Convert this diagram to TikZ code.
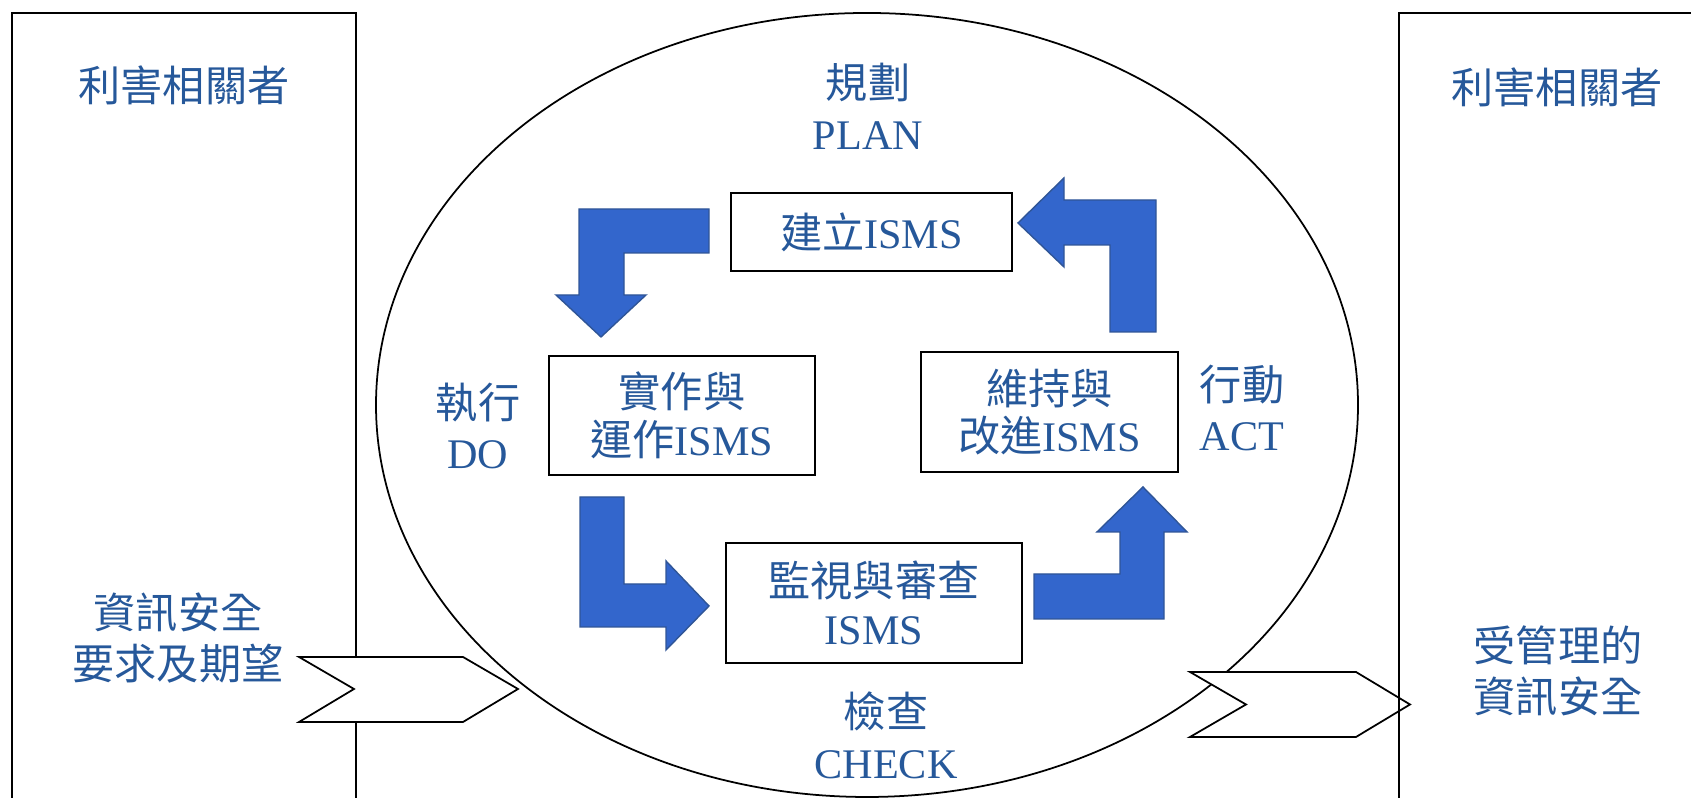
\documentclass[tikz,border=0pt]{standalone}
\usepackage{fontspec}
\setmainfont{Liberation Serif}
\newfontfamily\cjk{Noto Sans CJK TC}
\definecolor{chuxanh}{RGB}{38,88,154}
\definecolor{xanh}{RGB}{51,102,204}
\definecolor{vienxanh}{RGB}{47,85,151}
\begin{document}
\begin{tikzpicture}[
	nhan/.style={text=chuxanh, align=center, inner sep=0pt, font=\fontsize{12}{14.5}\selectfont},
	khung/.style={draw, line width=0.5pt, fill=white, nhan, font=\fontsize{12}{13.5}\selectfont},
	muiten/.style={fill=xanh, draw=vienxanh, line width=0.4pt},
	vien/.style={line width=0.5pt}]
	\useasboundingbox (0,0) rectangle (16.91,7.98);
	\clip (0,0) rectangle (16.91,7.98);
	%ben trai
	\draw[vien] (0.12,-0.2) -- (0.12,7.85) -- (3.56,7.85) -- (3.56,-0.2);
	\node[nhan] (bentrai) at (1.84,7.13) {\cjk 利害相關者};
	\node[nhan] (yeucau) at (1.78,1.60) {\cjk 資訊安全\\\cjk 要求及期望};
	%vong
	\draw[vien] (8.67,3.93) ellipse (4.91 and 3.92);
	%hai mui vao ra
	\draw[vien, fill=white] (2.99,1.41) -- (4.63,1.41) -- (5.18,1.09) -- (4.63,0.76) -- (2.99,0.76) -- (3.54,1.09) -- cycle;
	\draw[vien, fill=white] (11.90,1.26) -- (13.56,1.26) -- (14.10,0.935) -- (13.56,0.61) -- (11.90,0.61) -- (12.46,0.935) -- cycle;
	%ben phai
	\draw[vien] (17.2,7.85) -- (13.99,7.85) -- (13.99,-0.2);
	\node[nhan] (benphai) at (15.57,7.11) {\cjk 利害相關者};
	\node[nhan] (ketqua) at (15.58,1.27) {\cjk 受管理的\\\cjk 資訊安全};
	%bon chu
	\node[nhan] (plan) at (8.68,6.92) {{\cjk 規劃}\\PLAN};
	\node[nhan] (do) at (4.78,3.72) {{\cjk 執行}\\DO};
	\node[nhan] (act) at (12.42,3.90) {{\cjk 行動}\\ACT};
	\node[nhan] (check) at (8.86,0.63) {{\cjk 檢查}\\CHECK};
	%cac o
	\node[khung, minimum width=2.81cm, minimum height=0.78cm] (lap) at (8.715,5.66) {{\cjk 建立}ISMS};
	\node[khung, minimum width=2.66cm, minimum height=1.19cm] (thuchien) at (6.82,3.825) {{\cjk 實作與}\\{\cjk 運作}ISMS};
	\node[khung, minimum width=2.57cm, minimum height=1.20cm] (duytri) at (10.495,3.86) {{\cjk 維持與}\\{\cjk 改進}ISMS};
	\node[khung, minimum width=2.96cm, minimum height=1.20cm] (giamsat) at (8.74,1.95) {{\cjk 監視與審查}\\ISMS};
	%mui ten xanh
	\draw[muiten] (7.09,5.89) -- (7.09,5.45) -- (6.24,5.45) -- (6.24,5.03) -- (6.46,5.03) -- (6.01,4.61) -- (5.56,5.03) -- (5.79,5.03) -- (5.79,5.89) -- cycle;
	\draw[muiten] (5.80,3.01) -- (6.24,3.01) -- (6.24,2.14) -- (6.66,2.14) -- (6.66,2.37) -- (7.09,1.92) -- (6.66,1.48) -- (6.66,1.71) -- (5.80,1.71) -- cycle;
	\draw[muiten] (10.34,2.24) -- (11.20,2.24) -- (11.20,2.66) -- (10.97,2.66) -- (11.43,3.11) -- (11.87,2.66) -- (11.64,2.66) -- (11.64,1.79) -- (10.34,1.79) -- cycle;
	\draw[muiten] (11.10,4.66) -- (11.56,4.66) -- (11.56,5.98) -- (10.64,5.98) -- (10.64,6.20) -- (10.18,5.75) -- (10.64,5.31) -- (10.64,5.53) -- (11.10,5.53) -- cycle;
\end{tikzpicture}
\end{document}
